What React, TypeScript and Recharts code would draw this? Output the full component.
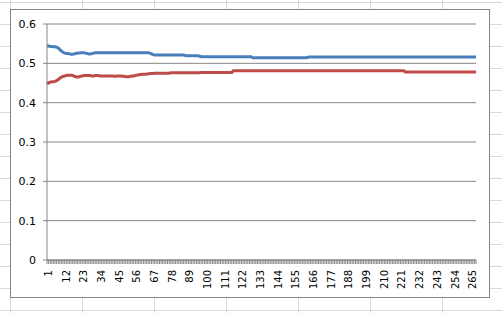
import { LineChart, Line, XAxis, YAxis, CartesianGrid } from 'recharts';

// category labels are simply the running count 1..268
const days = Array.from({ length: 268 }, (_, i) => i + 1);

const blueSeries = [
  0.544, 0.544, 0.543, 0.543, 0.542, 0.542, 0.541, 0.539, 0.535, 0.531,
  0.528, 0.526, 0.525, 0.525, 0.524, 0.523, 0.523, 0.524, 0.525, 0.526,
  0.526, 0.527, 0.527, 0.527, 0.526, 0.525, 0.524, 0.524, 0.525, 0.526,
  0.527, 0.527, 0.527, 0.527, 0.527, 0.527, 0.527, 0.527, 0.527, 0.527,
  0.527, 0.527, 0.527, 0.527, 0.527, 0.527, 0.527, 0.527, 0.527, 0.527,
  0.527, 0.527, 0.527, 0.527, 0.527, 0.527, 0.527, 0.527, 0.527, 0.527,
  0.527, 0.527, 0.527, 0.527, 0.526, 0.524, 0.522, 0.521, 0.521, 0.521,
  0.521, 0.521, 0.521, 0.521, 0.521, 0.521, 0.521, 0.521, 0.521, 0.521,
  0.521, 0.521, 0.521, 0.521, 0.521, 0.521, 0.520, 0.519, 0.519, 0.519,
  0.519, 0.519, 0.519, 0.519, 0.519, 0.518, 0.517, 0.517, 0.517, 0.517,
  0.517, 0.517, 0.517, 0.517, 0.517, 0.517, 0.517, 0.517, 0.517, 0.517,
  0.517, 0.517, 0.517, 0.517, 0.517, 0.517, 0.517, 0.517, 0.517, 0.517,
  0.517, 0.517, 0.517, 0.517, 0.517, 0.517, 0.517, 0.517, 0.514, 0.514,
  0.514, 0.514, 0.514, 0.514, 0.514, 0.514, 0.514, 0.514, 0.514, 0.514,
  0.514, 0.514, 0.514, 0.514, 0.514, 0.514, 0.514, 0.514, 0.514, 0.514,
  0.514, 0.514, 0.514, 0.514, 0.514, 0.514, 0.514, 0.514, 0.514, 0.514,
  0.514, 0.514, 0.515, 0.516, 0.516, 0.516, 0.516, 0.516, 0.516, 0.516,
  0.516, 0.516, 0.516, 0.516, 0.516, 0.516, 0.516, 0.516, 0.516, 0.516,
  0.516, 0.516, 0.516, 0.516, 0.516, 0.516, 0.516, 0.516, 0.516, 0.516,
  0.516, 0.516, 0.516, 0.516, 0.516, 0.516, 0.516, 0.516, 0.516, 0.516,
  0.516, 0.516, 0.516, 0.516, 0.516, 0.516, 0.516, 0.516, 0.516, 0.516,
  0.516, 0.516, 0.516, 0.516, 0.516, 0.516, 0.516, 0.516, 0.516, 0.516,
  0.516, 0.516, 0.516, 0.516, 0.516, 0.516, 0.516, 0.516, 0.516, 0.516,
  0.516, 0.516, 0.516, 0.516, 0.516, 0.516, 0.516, 0.516, 0.516, 0.516,
  0.516, 0.516, 0.516, 0.516, 0.516, 0.516, 0.516, 0.516, 0.516, 0.516,
  0.516, 0.516, 0.516, 0.516, 0.516, 0.516, 0.516, 0.516, 0.516, 0.516,
  0.516, 0.516, 0.516, 0.516, 0.516, 0.516, 0.516, 0.516,
];

const redSeries = [
  0.447, 0.451, 0.452, 0.453, 0.453, 0.454, 0.456, 0.459, 0.462, 0.465,
  0.467, 0.468, 0.469, 0.470, 0.470, 0.470, 0.469, 0.467, 0.466, 0.465,
  0.466, 0.467, 0.468, 0.469, 0.469, 0.469, 0.469, 0.469, 0.468, 0.468,
  0.469, 0.469, 0.469, 0.468, 0.468, 0.468, 0.468, 0.468, 0.468, 0.468,
  0.468, 0.468, 0.467, 0.467, 0.468, 0.468, 0.468, 0.467, 0.467, 0.466,
  0.466, 0.466, 0.467, 0.468, 0.468, 0.469, 0.470, 0.471, 0.471, 0.472,
  0.472, 0.472, 0.473, 0.473, 0.474, 0.474, 0.474, 0.475, 0.475, 0.475,
  0.475, 0.475, 0.475, 0.475, 0.475, 0.475, 0.475, 0.476, 0.476, 0.476,
  0.476, 0.476, 0.476, 0.476, 0.476, 0.476, 0.476, 0.476, 0.476, 0.476,
  0.476, 0.476, 0.476, 0.476, 0.476, 0.476, 0.477, 0.477, 0.477, 0.477,
  0.477, 0.477, 0.477, 0.477, 0.477, 0.477, 0.477, 0.477, 0.477, 0.477,
  0.477, 0.477, 0.477, 0.477, 0.477, 0.477, 0.481, 0.481, 0.481, 0.481,
  0.481, 0.481, 0.481, 0.481, 0.481, 0.481, 0.481, 0.481, 0.481, 0.481,
  0.481, 0.481, 0.481, 0.481, 0.481, 0.481, 0.481, 0.481, 0.481, 0.481,
  0.481, 0.481, 0.481, 0.481, 0.481, 0.481, 0.481, 0.481, 0.481, 0.481,
  0.481, 0.481, 0.481, 0.481, 0.481, 0.481, 0.481, 0.481, 0.481, 0.481,
  0.481, 0.481, 0.481, 0.481, 0.481, 0.481, 0.481, 0.481, 0.481, 0.481,
  0.481, 0.481, 0.481, 0.481, 0.481, 0.481, 0.481, 0.481, 0.481, 0.481,
  0.481, 0.481, 0.481, 0.481, 0.481, 0.481, 0.481, 0.481, 0.481, 0.481,
  0.481, 0.481, 0.481, 0.481, 0.481, 0.481, 0.481, 0.481, 0.481, 0.481,
  0.481, 0.481, 0.481, 0.481, 0.481, 0.481, 0.481, 0.481, 0.481, 0.481,
  0.481, 0.481, 0.481, 0.481, 0.481, 0.481, 0.481, 0.481, 0.481, 0.481,
  0.481, 0.481, 0.481, 0.478, 0.478, 0.478, 0.478, 0.478, 0.478, 0.478,
  0.478, 0.478, 0.478, 0.478, 0.478, 0.478, 0.478, 0.478, 0.478, 0.478,
  0.478, 0.478, 0.478, 0.478, 0.478, 0.478, 0.478, 0.478, 0.478, 0.478,
  0.478, 0.478, 0.478, 0.478, 0.478, 0.478, 0.478, 0.478, 0.478, 0.478,
  0.478, 0.478, 0.478, 0.478, 0.478, 0.478, 0.478, 0.478,
];

const yTicks = [0, 0.1, 0.2, 0.3, 0.4, 0.5, 0.6];

const data = days.map((d, i) => ({ day: d, blue: blueSeries[i], red: redSeries[i] }));

// faint spreadsheet cell lines behind the chart object
const sheetCols = [10.5, 82.5, 154.5, 226.5, 298.5, 370.5, 442.5];
const sheetRows = [2.5, 24.5, 46.5, 68.5, 90.5, 112.5, 134.5, 156.5, 178.5, 200.5, 222.5, 244.5, 266.5, 288.5, 310.5];

const FONT = '"DejaVu Sans", Verdana, sans-serif';
const AXIS = '#868686';

const CategoryTick = (props: any) => {
  const { x, y, payload, index } = props;
  return (
    <g>
      <line x1={x} y1={y} x2={x} y2={y + 4} stroke={AXIS} strokeWidth={1} />
      {index % 11 === 0 && (
        <text
          x={0}
          y={0}
          transform={`translate(${x + 1.5}, ${y + 10}) rotate(-90)`}
          textAnchor="end"
          dominantBaseline="central"
          fontSize={10}
          fontFamily={FONT}
          fill="#000"
        >
          {payload.value}
        </text>
      )}
    </g>
  );
};

export default function App() {
  return (
    <div style={{ position: 'absolute', left: 0, top: 0, width: 502, height: 313, background: '#fff', overflow: 'hidden' }}>
      <svg width={502} height={313} style={{ position: 'absolute', left: 0, top: 0 }}>
        {sheetCols.map((x) => (
          <line key={'c' + x} x1={x} y1={0} x2={x} y2={313} stroke="#d4d9e2" />
        ))}
        {sheetRows.map((y) => (
          <line key={'r' + y} x1={0} y1={y} x2={502} y2={y} stroke="#d4d9e2" />
        ))}
      </svg>
      <div
        style={{
          position: 'absolute',
          left: 10,
          top: 9,
          width: 480,
          height: 289,
          background: '#fff',
          border: '1px solid #7c8a7c',
          boxSizing: 'border-box',
        }}
      />
      <div style={{ position: 'absolute', left: 11, top: 10 }}>
        <LineChart width={479} height={289} data={data} margin={{ top: 14, right: 14, bottom: 0, left: 0 }}>
          <CartesianGrid vertical={false} stroke={AXIS} strokeDasharray="" />
          <XAxis
            dataKey="day"
            type="category"
            interval={0}
            height={39}
            tickLine={false}
            tickSize={0}
            tickMargin={0}
            axisLine={{ stroke: AXIS }}
            tick={<CategoryTick />}
          />
          <YAxis
            domain={[0, 0.6]}
            ticks={yTicks}
            width={36}
            tickSize={4}
            tickMargin={7}
            axisLine={{ stroke: AXIS }}
            tickLine={{ stroke: AXIS }}
            tick={{ fontSize: 11, fontFamily: FONT, fill: '#000' }}
          />
          <Line type="linear" dataKey="blue" stroke="#4a7ebb" strokeWidth={3} dot={false} isAnimationActive={false} />
          <Line type="linear" dataKey="red" stroke="#be4b48" strokeWidth={3} dot={false} isAnimationActive={false} />
        </LineChart>
      </div>
    </div>
  );
}
